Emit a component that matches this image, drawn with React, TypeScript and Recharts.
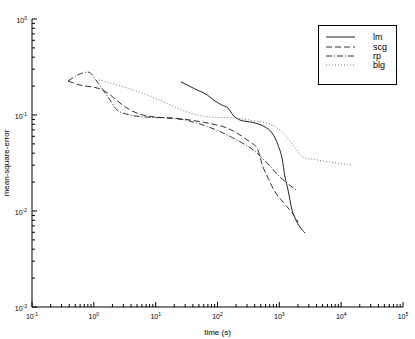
import { Legend, Line, LineChart, XAxis, YAxis } from 'recharts'

// training time (s) vs mean-square-error
const lmTime = [25.7, 43, 68, 91, 118, 148, 178, 231, 404, 587, 762, 952, 1105, 1236, 1381, 1603, 1794, 2602]
const lmMse = [0.221, 0.187, 0.162, 0.14, 0.127, 0.118, 0.1, 0.0887, 0.0826, 0.075, 0.065, 0.0487, 0.0356, 0.0226, 0.0166, 0.0102, 0.00845, 0.0059]

const scgTime = [0.382, 0.597, 0.933, 1.26, 1.83, 2.65, 3.85, 5.58, 9.76, 18.4, 35.9, 67.6, 142, 335, 435, 545, 656, 851, 1147, 1794, 2005]
const scgMse = [0.226, 0.205, 0.196, 0.187, 0.162, 0.133, 0.113, 0.102, 0.0953, 0.0931, 0.0887, 0.0826, 0.0732, 0.0523, 0.0453, 0.0287, 0.0221, 0.0158, 0.0124, 0.00866, 0.00768]

const rpTime = [0.382, 0.805, 1.17, 1.83, 2.37, 3.85, 6.73, 14.2, 29.8, 58.3, 178, 435, 632, 1026, 1862]
const rpMse = [0.226, 0.28, 0.215, 0.143, 0.113, 0.1, 0.0953, 0.0931, 0.0887, 0.0787, 0.0576, 0.0402, 0.0316, 0.0226, 0.0166]

const blgTime = [1.2, 3.85, 9.76, 20.6, 35.9, 75.7, 192, 404, 706, 1147, 1664, 2415, 4066, 6607, 15560]
const blgMse = [0.232, 0.187, 0.15, 0.121, 0.105, 0.0953, 0.0931, 0.0866, 0.0806, 0.065, 0.0487, 0.0365, 0.034, 0.0324, 0.0301]

const xDecades = [0.1, 1, 10, 100, 1000, 10000, 100000]
const yDecades = [0.001, 0.01, 0.1, 1]
const minorSteps = [2, 3, 4, 5, 6, 7, 8, 9]

const toPoints = (t: number[], m: number[]) => t.map((time, i) => ({ time, mse: m[i] }))
const withMinor = (dec: number[]) => [
  ...dec,
  ...dec.slice(0, -1).flatMap(d => minorSteps.map(s => d * s)),
].sort((a, b) => a - b)

const series = [
  { name: 'lm', data: toPoints(lmTime, lmMse), dash: undefined, color: '#222' },
  { name: 'scg', data: toPoints(scgTime, scgMse), dash: '6 3', color: '#333' },
  { name: 'rp', data: toPoints(rpTime, rpMse), dash: '6 2 1 2', color: '#333' },
  { name: 'blg', data: toPoints(blgTime, blgMse), dash: '1 2', color: '#777' },
]

const xTicks = withMinor(xDecades)
const yTicks = withMinor(yDecades)
const font = '"Liberation Sans", Arial, Helvetica, sans-serif'

const isMajor = (v: number) => Math.abs(Math.log10(v) - Math.round(Math.log10(v))) < 1e-6
const MAJOR = 5
const MINOR = 3

const BottomTick = ({ x, y, payload }: any) => {
  const v = payload.value
  const major = isMajor(v)
  return (
    <g>
      <line x1={x} y1={y} x2={x} y2={y - (major ? MAJOR : MINOR)} stroke="#000" />
      {major && (
        <text x={x} y={y + 12} textAnchor="middle" fontSize={7} fill="#000" fontFamily={font}>
          10<tspan dy={-3.5} fontSize={5}>{Math.round(Math.log10(v))}</tspan>
        </text>
      )}
    </g>
  )
}

const TopTick = ({ x, y, payload }: any) => (
  <line x1={x} y1={y} x2={x} y2={y + (isMajor(payload.value) ? MAJOR : MINOR)} stroke="#000" />
)

const LeftTick = ({ x, y, payload }: any) => {
  const v = payload.value
  const major = isMajor(v)
  return (
    <g>
      <line x1={x} y1={y} x2={x + (major ? MAJOR : MINOR)} y2={y} stroke="#000" />
      {major && (
        <text x={x - 5} y={y + 4} textAnchor="end" fontSize={7} fill="#000" fontFamily={font}>
          10<tspan dy={-3.5} fontSize={5}>{Math.round(Math.log10(v))}</tspan>
        </text>
      )}
    </g>
  )
}

const RightTick = ({ x, y, payload }: any) => (
  <line x1={x} y1={y} x2={x - (isMajor(payload.value) ? MAJOR : MINOR)} y2={y} stroke="#000" />
)

const LegendBox = () => (
  <div style={{ width: 79, height: 60, border: '1px solid #000', background: '#fff', boxSizing: 'border-box' }}>
    <svg width={77} height={58}>
      {series.map((s, i) => {
        const y = [11, 21, 30, 39][i]
        return (
          <g key={s.name}>
            <line x1={7} x2={36} y1={y} y2={y} stroke={s.color} strokeDasharray={s.dash} />
            <text x={54} y={y + 3} fontSize={9} fill="#000" fontFamily={font}>{s.name}</text>
          </g>
        )
      })}
    </svg>
  </div>
)

export default function App() {
  return (
    <div style={{ position: 'absolute', left: 0, top: 0, width: 415, height: 339, background: '#fff', fontFamily: font }}>
      <LineChart width={415} height={339} margin={{ top: 19, right: 12, bottom: 0, left: 0 }}>
        <XAxis
          xAxisId="bottom"
          dataKey="time"
          type="number"
          scale="log"
          domain={[0.1, 100000]}
          allowDataOverflow
          ticks={xTicks}
          interval={0}
          height={32}
          tickSize={0}
          tickMargin={0}
          tick={BottomTick}
          stroke="#000"
          label={({ viewBox }: any) => (
            <text x={viewBox.x + viewBox.width / 2} y={viewBox.y + 28} textAnchor="middle" fontSize={8} fill="#000" fontFamily={font}>
              time (s)
            </text>
          )}
        />
        <XAxis
          xAxisId="top"
          orientation="top"
          type="number"
          scale="log"
          domain={[0.1, 100000]}
          allowDataOverflow
          ticks={xTicks}
          interval={0}
          height={0}
          tickSize={0}
          tickMargin={0}
          tick={TopTick}
          stroke="#000"
        />
        <YAxis
          yAxisId="left"
          type="number"
          scale="log"
          domain={[0.001, 1]}
          allowDataOverflow
          ticks={yTicks}
          interval={0}
          width={32}
          tickSize={0}
          tickMargin={0}
          tick={LeftTick}
          stroke="#000"
          label={({ viewBox }: any) => {
            const cx = viewBox.x + 9
            const cy = viewBox.y + viewBox.height / 2
            return (
              <text x={cx} y={cy} transform={`rotate(-90 ${cx} ${cy})`} textAnchor="middle" fontSize={8} fill="#000" fontFamily={font}>
                mean-square-error
              </text>
            )
          }}
        />
        <YAxis
          yAxisId="right"
          orientation="right"
          type="number"
          scale="log"
          domain={[0.001, 1]}
          allowDataOverflow
          ticks={yTicks}
          interval={0}
          width={0}
          tickSize={0}
          tickMargin={0}
          tick={RightTick}
          stroke="#000"
        />
        {series.map(s => (
          <Line
            key={s.name}
            xAxisId="bottom"
            yAxisId="left"
            data={s.data}
            dataKey="mse"
            name={s.name}
            type="monotone"
            stroke={s.color}
            strokeWidth={1}
            strokeDasharray={s.dash}
            dot={false}
            activeDot={false}
            isAnimationActive={false}
          />
        ))}
        <Legend
          layout="vertical"
          align="center"
          verticalAlign="middle"
          wrapperStyle={{ left: 318, top: 25, width: 79 }}
          content={() => <LegendBox />}
        />
      </LineChart>
    </div>
  )
}
